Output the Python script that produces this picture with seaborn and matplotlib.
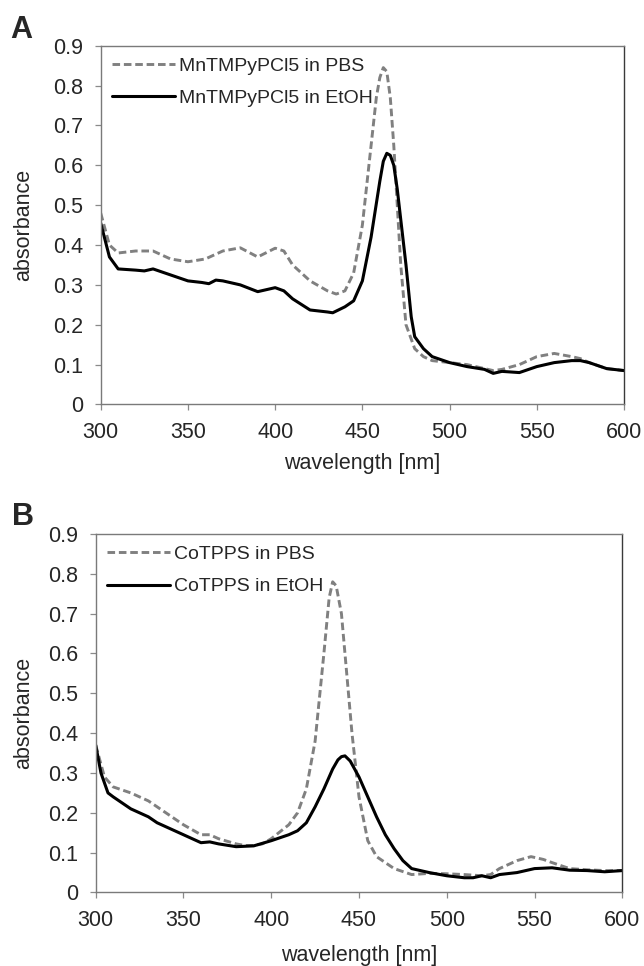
"""Absorbance spectra of MnTMPyPCl5 and CoTPPS in PBS vs EtOH (two panels)."""
import matplotlib

matplotlib.use("Agg")
import matplotlib.pyplot as plt
import pandas as pd
import seaborn as sns

sns.set_theme(style="white")
plt.rcParams["font.family"] = ["Liberation Sans", "DejaVu Sans"]

# Panel A: MnTMPyPCl5
a_pbs_nm = [300, 305, 310, 320, 330, 340, 350, 360, 370, 380, 390, 400, 405, 410,
            420, 430, 435, 440, 445, 450, 455, 458, 460, 462, 464, 466, 468, 470,
            472, 475, 480, 485, 490, 500, 510, 520, 525, 530, 540, 550, 560, 570,
            575, 580, 590, 600]
a_pbs_abs = [0.48, 0.40, 0.38, 0.385, 0.385, 0.365, 0.358, 0.365, 0.385, 0.393,
             0.37, 0.392, 0.385, 0.35, 0.31, 0.285, 0.277, 0.285, 0.33, 0.45,
             0.65, 0.77, 0.82, 0.845, 0.835, 0.77, 0.65, 0.50, 0.35, 0.20, 0.14,
             0.12, 0.11, 0.105, 0.10, 0.09, 0.085, 0.088, 0.10, 0.12, 0.128, 0.12,
             0.115, 0.105, 0.09, 0.085]
a_etoh_nm = [300, 305, 310, 320, 325, 330, 340, 350, 358, 362, 366, 370, 380, 390,
             400, 405, 410, 420, 430, 433, 440, 445, 450, 455, 460, 462, 464, 466,
             468, 470, 475, 478, 480, 485, 490, 500, 510, 520, 525, 530, 540, 550,
             560, 570, 575, 580, 590, 600]
a_etoh_abs = [0.455, 0.37, 0.34, 0.337, 0.335, 0.34, 0.325, 0.31, 0.306, 0.303,
              0.312, 0.31, 0.30, 0.283, 0.293, 0.285, 0.265, 0.237, 0.232, 0.23,
              0.245, 0.26, 0.31, 0.42, 0.56, 0.61, 0.63, 0.625, 0.60, 0.54, 0.35,
              0.22, 0.17, 0.14, 0.12, 0.105, 0.095, 0.088, 0.078, 0.083, 0.08,
              0.095, 0.105, 0.11, 0.11, 0.105, 0.09, 0.085]

# Panel B: CoTPPS
b_pbs_nm = [300, 305, 310, 320, 330, 340, 350, 360, 365, 370, 380, 385, 390, 395,
            400, 410, 415, 420, 425, 430, 433, 435, 437, 440, 443, 446, 450, 455,
            460, 470, 480, 490, 500, 510, 520, 525, 530, 540, 548, 555, 560, 570,
            580, 590, 600]
b_pbs_abs = [0.37, 0.29, 0.265, 0.25, 0.23, 0.20, 0.17, 0.145, 0.145, 0.135,
             0.122, 0.118, 0.118, 0.122, 0.135, 0.17, 0.20, 0.26, 0.38, 0.60,
             0.74, 0.78, 0.77, 0.70, 0.55, 0.40, 0.24, 0.13, 0.09, 0.06, 0.045,
             0.048, 0.047, 0.045, 0.042, 0.045, 0.06, 0.08, 0.09, 0.083, 0.075,
             0.06, 0.057, 0.055, 0.055]
b_etoh_nm = [300, 303, 307, 310, 320, 330, 335, 340, 350, 355, 360, 365, 370, 380,
             390, 400, 410, 415, 420, 425, 430, 435, 438, 440, 442, 445, 450, 455,
             460, 465, 470, 475, 480, 490, 500, 510, 515, 520, 525, 530, 540, 550,
             560, 570, 580, 590, 600]
b_etoh_abs = [0.37, 0.30, 0.25, 0.24, 0.21, 0.19, 0.175, 0.165, 0.145, 0.135,
              0.125, 0.127, 0.122, 0.115, 0.117, 0.13, 0.145, 0.155, 0.175, 0.215,
              0.26, 0.31, 0.333, 0.341, 0.343, 0.33, 0.29, 0.24, 0.19, 0.145, 0.11,
              0.08, 0.06, 0.05, 0.042, 0.037, 0.037, 0.042, 0.037, 0.045, 0.05,
              0.06, 0.062, 0.056, 0.055, 0.052, 0.055]

x_ticks = [300, 350, 400, 450, 500, 550, 600]
y_ticks = [0, 0.1, 0.2, 0.3, 0.4, 0.5, 0.6, 0.7, 0.8, 0.9]

PBS_COLOR = "#808080"
ETOH_COLOR = "#000000"
FS = 15.5

fig = plt.figure(figsize=(6.44, 9.66), dpi=100)
ax_a = fig.add_axes([0.1564, 0.5813, 0.8126, 0.3714])
ax_b = fig.add_axes([0.1486, 0.0761, 0.8177, 0.3711])


def draw_panel(ax, pbs_nm, pbs_abs, etoh_nm, etoh_abs, name, ylab_x, xlab_pad):
    pbs = pd.DataFrame({"nm": pbs_nm, "abs": pbs_abs})
    etoh = pd.DataFrame({"nm": etoh_nm, "abs": etoh_abs})
    sns.lineplot(data=pbs, x="nm", y="abs", ax=ax, color=PBS_COLOR, lw=2.1,
                 linestyle=(0, (2.6, 1.3)), label=f"{name} in PBS")
    sns.lineplot(data=etoh, x="nm", y="abs", ax=ax, color=ETOH_COLOR, lw=2.2,
                 label=f"{name} in EtOH")
    ax.set_xlim(300, 600)
    ax.set_ylim(0, 0.9)
    ax.set_xticks(x_ticks)
    ax.set_yticks(y_ticks)
    ax.set_yticklabels(["0" if v == 0 else f"{v:.1f}" for v in y_ticks])
    ax.tick_params(axis="both", labelsize=FS, length=4.5, width=0.9,
                   color="#8a8a8a", direction="out", bottom=True, left=True, pad=8)
    for side, sp in ax.spines.items():
        sp.set_color("#3a3a3a" if side == "right" else "#7a7a7a")
        sp.set_linewidth(1.0)
    ax.set_xlabel("wavelength [nm]", fontsize=FS, labelpad=xlab_pad)
    ax.set_ylabel("absorbance", fontsize=FS)
    ax.yaxis.set_label_coords(ylab_x, 0.5)
    ax.legend(loc="upper left", frameon=False, fontsize=14,
              handlelength=3.2, handletextpad=0.25, borderaxespad=0.15,
              borderpad=0.45, labelspacing=0.75)


draw_panel(ax_a, a_pbs_nm, a_pbs_abs, a_etoh_nm, a_etoh_abs, "MnTMPyPCl5", -0.128, 7)
draw_panel(ax_b, b_pbs_nm, b_pbs_abs, b_etoh_nm, b_etoh_abs, "CoTPPS", -0.117, 10)

fig.text(10 / 644, 1 - 38 / 966, "A", fontsize=22, fontweight="bold",
         ha="left", va="baseline")
fig.text(12 / 644, 1 - 525 / 966, "B", fontsize=22, fontweight="bold",
         ha="left", va="baseline")

fig.savefig("out.png", dpi=100)
plt.close(fig)
